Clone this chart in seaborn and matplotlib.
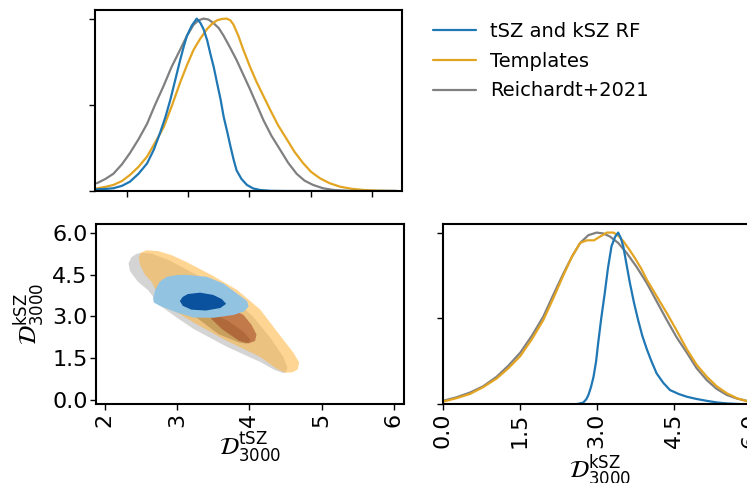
import matplotlib
matplotlib.use("Agg")
import matplotlib.pyplot as plt
import numpy as np
import pandas as pd
import seaborn as sns

# ---------------- data ----------------
series = ["tSZ and kSZ RF", "Templates", "Reichardt+2021"]
line_colors = ["#1f77b4", "#e3a521", "#808080"]

# 1D marginal of D_3000^tSZ (top-left panel)
tsz_x_rf = [1.51, 1.65, 1.78, 1.92, 2.05, 2.19, 2.33, 2.44, 2.54, 2.63, 2.71, 2.79, 2.87, 2.93, 2.98, 3.06, 3.14,
            3.20, 3.25, 3.31, 3.36, 3.42, 3.47, 3.53, 3.58, 3.64, 3.69, 3.74, 3.79, 3.87, 3.96, 4.06, 4.17, 4.35, 4.60, 6.40]
tsz_p_rf = [0.010, 0.012, 0.016, 0.030, 0.054, 0.10, 0.16, 0.24, 0.335, 0.43, 0.53, 0.645, 0.76, 0.84, 0.90, 0.96, 1.0,
            0.975, 0.94, 0.875, 0.80, 0.715, 0.63, 0.53, 0.43, 0.34, 0.26, 0.185, 0.12, 0.07, 0.035, 0.015, 0.006, 0.001, 0.0, 0.0]
tsz_x_tpl = [1.51, 1.65, 1.78, 1.92, 2.05, 2.19, 2.33, 2.46, 2.60, 2.73, 2.87, 2.98, 3.09, 3.20, 3.31, 3.39, 3.47, 3.55,
             3.63, 3.69, 3.74, 3.82, 3.90, 4.01, 4.12, 4.23, 4.34, 4.47, 4.61, 4.74, 4.88, 5.01, 5.15, 5.31, 5.48, 5.66,
             5.86, 6.10, 6.40]
tsz_p_tpl = [0.015, 0.024, 0.035, 0.058, 0.093, 0.14, 0.20, 0.28, 0.37, 0.49, 0.63, 0.73, 0.82, 0.885, 0.94, 0.97, 0.99, 0.998,
             1.0, 0.99, 0.965, 0.90, 0.82, 0.72, 0.63, 0.55, 0.47, 0.38, 0.30, 0.225, 0.16, 0.11, 0.074, 0.045, 0.025, 0.013,
             0.006, 0.002, 0.0]
tsz_x_r21 = [1.51, 1.65, 1.78, 1.92, 2.05, 2.19, 2.33, 2.46, 2.60, 2.73, 2.87, 2.98, 3.09, 3.17, 3.25, 3.33, 3.41, 3.50,
             3.58, 3.68, 3.79, 3.90, 4.01, 4.12, 4.23, 4.36, 4.50, 4.63, 4.77, 4.90, 5.04, 5.20, 5.37, 5.60, 5.90, 6.40]
tsz_p_r21 = [0.045, 0.07, 0.10, 0.155, 0.22, 0.30, 0.39, 0.50, 0.61, 0.72, 0.82, 0.90, 0.965, 0.99, 1.0, 0.995, 0.975, 0.945,
             0.90, 0.835, 0.76, 0.675, 0.59, 0.50, 0.41, 0.32, 0.24, 0.165, 0.10, 0.06, 0.035, 0.016, 0.006, 0.001, 0.0, 0.0]

# 1D marginal of D_3000^kSZ (bottom-right panel)
ksz_x_rf = [0.0, 2.60, 2.74, 2.80, 2.84, 2.89, 2.94, 2.99, 3.03, 3.09, 3.16, 3.22, 3.29, 3.36, 3.42, 3.47, 3.52, 3.58,
            3.65, 3.73, 3.81, 3.89, 3.98, 4.07, 4.17, 4.30, 4.43, 4.60, 4.76, 4.95, 5.15, 5.34, 5.54, 5.80, 6.15]
ksz_p_rf = [0.0, 0.0, 0.010, 0.030, 0.054, 0.10, 0.16, 0.25, 0.355, 0.50, 0.65, 0.79, 0.92, 0.975, 1.0, 0.97, 0.92, 0.82,
            0.705, 0.59, 0.49, 0.40, 0.32, 0.25, 0.18, 0.125, 0.083, 0.06, 0.044, 0.031, 0.020, 0.011, 0.005, 0.001, 0.0]
ksz_x_tpl = [0.0, 0.26, 0.53, 0.79, 1.05, 1.28, 1.51, 1.74, 1.96, 2.16, 2.35, 2.52, 2.68, 2.81, 2.95, 3.07, 3.20, 3.33,
             3.43, 3.52, 3.64, 3.75, 3.87, 3.98, 4.17, 4.37, 4.56, 4.76, 4.95, 5.15, 5.34, 5.54, 5.74, 5.93, 6.15]
ksz_p_tpl = [0.015, 0.035, 0.06, 0.10, 0.15, 0.21, 0.28, 0.38, 0.49, 0.62, 0.75, 0.86, 0.94, 0.955, 0.955, 0.977, 1.0, 1.0,
             0.98, 0.95, 0.90, 0.85, 0.79, 0.725, 0.63, 0.53, 0.43, 0.32, 0.23, 0.16, 0.105, 0.064, 0.035, 0.018, 0.010]
ksz_x_r21 = [0.0, 0.26, 0.53, 0.79, 1.05, 1.28, 1.51, 1.74, 1.96, 2.16, 2.35, 2.52, 2.68, 2.84, 3.00, 3.13, 3.26, 3.42,
             3.59, 3.78, 3.98, 4.17, 4.37, 4.56, 4.76, 4.95, 5.15, 5.34, 5.54, 5.74, 5.93, 6.15]
ksz_p_r21 = [0.020, 0.040, 0.068, 0.105, 0.16, 0.225, 0.30, 0.40, 0.51, 0.64, 0.76, 0.86, 0.94, 0.985, 1.0, 0.995, 0.977,
             0.94, 0.88, 0.80, 0.705, 0.60, 0.49, 0.39, 0.30, 0.21, 0.14, 0.09, 0.054, 0.033, 0.020, 0.012]

# 2D credible regions (outline vertices, tSZ, kSZ)
r21_outer_x = [2.33, 2.37, 2.44, 2.52, 2.65, 2.90, 3.30, 3.70, 4.05, 4.30, 4.47, 4.53, 4.50, 4.47, 4.35, 4.15, 3.69, 3.23, 3.00, 2.76, 2.60, 2.46, 2.35]
r21_outer_y = [4.90, 5.12, 5.24, 5.28, 5.25, 5.00, 4.45, 3.80, 3.00, 2.20, 1.55, 1.15, 0.99, 0.97, 1.08, 1.37, 1.91, 2.55, 2.95, 3.40, 3.94, 4.24, 4.62]
r21_inner_x = [3.20, 3.25, 3.45, 3.70, 3.92, 4.02, 3.96, 3.85, 3.57, 3.30]
r21_inner_y = [3.08, 3.15, 3.15, 2.85, 2.45, 2.15, 2.02, 2.07, 2.37, 2.90]
tpl_outer_x = [2.47, 2.50, 2.58, 2.74, 2.92, 3.13, 3.50, 3.83, 4.15, 4.43, 4.61, 4.69, 4.67, 4.60, 4.50, 4.38, 4.15, 3.69, 3.23, 3.00, 2.76, 2.65, 2.56, 2.49]
tpl_outer_y = [5.10, 5.28, 5.37, 5.34, 5.20, 4.95, 4.45, 3.95, 3.25, 2.30, 1.70, 1.35, 1.10, 1.00, 0.98, 1.12, 1.55, 2.12, 2.78, 3.15, 3.65, 4.24, 4.48, 4.84]
tpl_inner_x = [3.40, 3.55, 3.78, 3.92, 4.03, 4.10, 4.08, 3.99, 3.86, 3.62, 3.48]
tpl_inner_y = [3.25, 3.35, 3.25, 3.05, 2.70, 2.35, 2.12, 2.03, 2.12, 2.55, 2.90]
rf_outer_x = [2.67, 2.70, 2.76, 2.86, 3.00, 3.13, 3.41, 3.64, 3.83, 3.97, 3.99, 3.93, 3.78, 3.50, 3.23, 3.00, 2.76, 2.68]
rf_outer_y = [3.64, 3.95, 4.24, 4.42, 4.48, 4.49, 4.42, 4.18, 3.82, 3.55, 3.35, 3.18, 3.05, 2.95, 2.96, 3.14, 3.38, 3.50]
rf_inner_x = [3.04, 3.08, 3.15, 3.32, 3.50, 3.62, 3.68, 3.60, 3.40, 3.20, 3.08]
rf_inner_y = [3.55, 3.70, 3.80, 3.85, 3.77, 3.62, 3.45, 3.30, 3.21, 3.24, 3.38]

tsz_ticks = [2, 3, 4, 5, 6]
ksz_ticks = [0.0, 1.5, 3.0, 4.5, 6.0]
density_ticks = [0.0, 0.5, 1.0]

# ---------------- style ----------------
sns.set_theme(style="ticks")
plt.rcParams["font.family"] = ["DejaVu Sans"]
plt.rcParams["mathtext.fontset"] = "dejavusans"
plt.rcParams["text.color"] = "black"
plt.rcParams["axes.labelcolor"] = "black"
plt.rcParams["xtick.color"] = "black"
plt.rcParams["ytick.color"] = "black"

W, H = 747, 483
fig = plt.figure(figsize=(W / 100, H / 100), dpi=100)

def px_axes(x0, y0, x1, y1):
    return fig.add_axes([x0 / W, 1 - y1 / H, (x1 - x0) / W, (y1 - y0) / H])

ax_top = px_axes(95, 10, 402, 191)
ax_2d = px_axes(96, 224, 404, 404.3)
ax_br = px_axes(442.7, 224, 442.7 + 6.15 * 51.3, 404.3)

def long_df(xs, ps):
    frames = []
    for name, x, p in zip(series, xs, ps):
        frames.append(pd.DataFrame({"x": x, "p": p, "series": name}))
    return pd.concat(frames, ignore_index=True)

df_tsz = long_df([tsz_x_rf, tsz_x_tpl, tsz_x_r21], [tsz_p_rf, tsz_p_tpl, tsz_p_r21])
df_ksz = long_df([ksz_x_rf, ksz_x_tpl, ksz_x_r21], [ksz_p_rf, ksz_p_tpl, ksz_p_r21])
pal = dict(zip(series, line_colors))

sns.lineplot(data=df_tsz, x="x", y="p", hue="series", palette=pal, hue_order=series[::-1],
             sort=False, estimator=None, lw=1.6, ax=ax_top, legend=False)
sns.lineplot(data=df_ksz, x="x", y="p", hue="series", palette=pal, hue_order=series[::-1],
             sort=False, estimator=None, lw=1.6, ax=ax_br, legend=False)

# 2D filled regions
ax_2d.fill(r21_outer_x, r21_outer_y, color="#7f7f7f", alpha=0.33, lw=0)
ax_2d.fill(r21_inner_x, r21_inner_y, color="#3a3a3a", alpha=0.5, lw=0)
ax_2d.fill(tpl_outer_x, tpl_outer_y, color="#ffb43c", alpha=0.55, lw=0)
ax_2d.fill(tpl_inner_x, tpl_inner_y, color="#9a3418", alpha=0.5, lw=0)
ax_2d.fill(rf_outer_x, rf_outer_y, color="#92c4e2", lw=0)
ax_2d.fill(rf_inner_x, rf_inner_y, color="#0a519e", lw=0)

# axes cosmetics
for ax in (ax_top, ax_2d, ax_br):
    for s in ax.spines.values():
        s.set_linewidth(1.5)
        s.set_color("black")
    ax.tick_params(direction="out", length=4, width=1, color="black", labelcolor="black", labelsize=16, pad=2)
    ax.set_xlabel("")
    ax.set_ylabel("")

ax_top.set_xlim(1.48, 6.49)
ax_top.set_ylim(0, 1.05)
ax_top.set_xticks(tsz_ticks)
ax_top.set_yticks(density_ticks)
ax_top.set_xticklabels([])
ax_top.set_yticklabels([])

xlab_tsz = r"$\mathcal{D}_{\mathrm{3000}}^{\mathrm{tSZ}}$"
xlab_ksz = r"$\mathcal{D}_{\mathrm{3000}}^{\mathrm{kSZ}}$"

ax_2d.set_xlim(1.88, 6.14)
ax_2d.set_ylim(-0.15, 6.31)
ax_2d.set_xticks(tsz_ticks)
ax_2d.set_xticklabels([str(t) for t in tsz_ticks], rotation=90)
ax_2d.set_yticks(ksz_ticks)
ax_2d.set_yticklabels([f"{t:.1f}" for t in ksz_ticks])
ax_2d.set_xlabel(xlab_tsz, fontsize=17, labelpad=3)
ax_2d.set_ylabel(xlab_ksz, fontsize=17, labelpad=4)

ax_br.set_xlim(0, 6.15)
ax_br.set_ylim(0, 1.05)
ax_br.set_xticks(ksz_ticks)
ax_br.set_xticklabels([f"{t:.1f}" for t in ksz_ticks], rotation=90)
ax_br.set_yticks(density_ticks)
ax_br.set_yticklabels([])
ax_br.set_xlabel(xlab_ksz, fontsize=17, labelpad=3)

handles = [plt.Line2D([], [], color=c, lw=1.6) for c in line_colors]
fig.legend(handles, series, loc="upper left", bbox_to_anchor=(433 / W, 1 - 22 / H),
           frameon=False, fontsize=14, handlelength=2.2, handletextpad=0.75,
           labelspacing=0.55, borderaxespad=0, borderpad=0)

fig.savefig("out.png", dpi=100)
